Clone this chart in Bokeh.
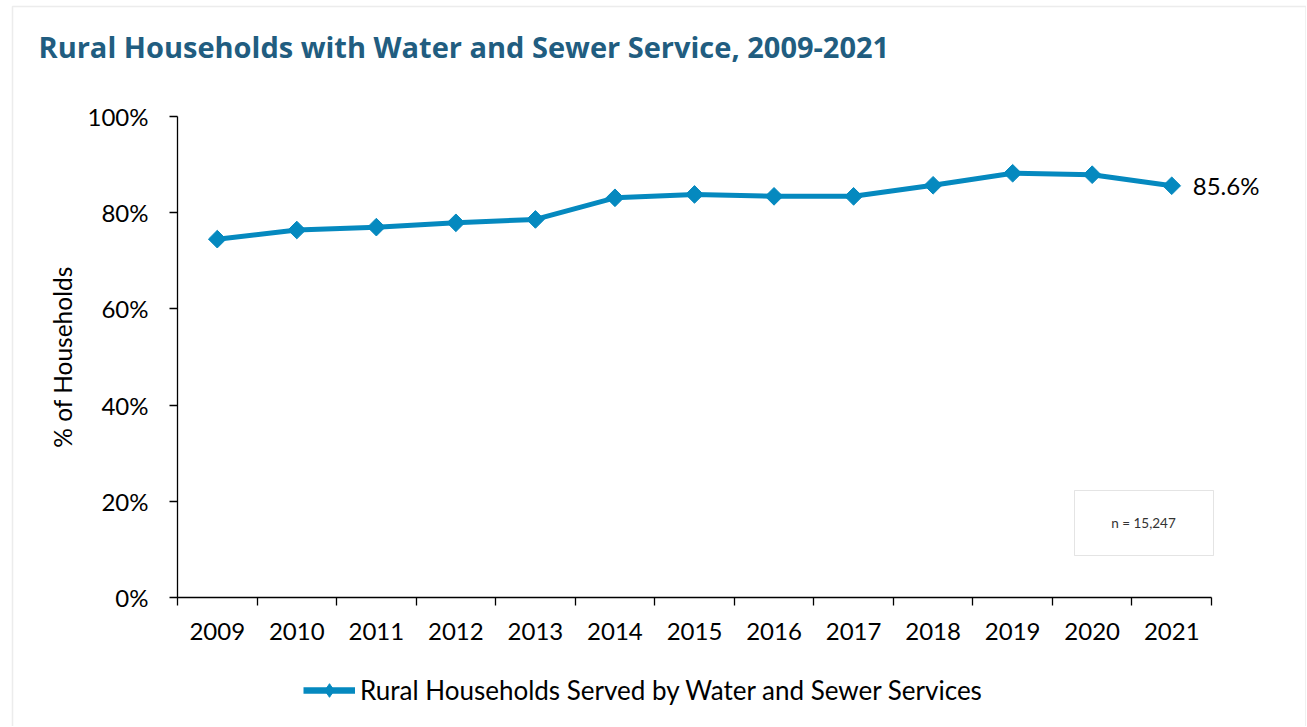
import math
from bokeh.plotting import figure
from bokeh.models import (Range1d, FixedTicker, Legend, LegendItem, Label,
                          BoxAnnotation, ColumnDataSource)
from bokeh.embed import file_html
from bokeh.resources import INLINE

# ---- data ----
years = [2009, 2010, 2011, 2012, 2013, 2014, 2015, 2016, 2017, 2018, 2019, 2020, 2021]
values = [74.5, 76.4, 77.0, 77.9, 78.6, 83.1, 83.8, 83.4, 83.4, 85.7, 88.2, 87.9, 85.6]
y_ticks = [0, 20, 40, 60, 80, 100]
y_tick_labels = ["0%", "20%", "40%", "60%", "80%", "100%"]
title_text = "Rural Households with Water and Sewer Service, 2009-2021"
y_title = "% of Households"
series_name = "Rural Households Served by Water and Sewer Services"
n_text = "n = 15,247"

LINE_COLOR = "#0589bf"
TITLE_COLOR = "#215d80"
FONT = "Lato"

# ---- layout (pixels) ----
W, H = 1306, 726
PX_L, PX_R, PX_T, PX_B = 177, 1211, 116, 597   # plot area edges on the canvas

x0, x1 = years[0] - 0.5, years[-1] + 0.5
y0, y1 = y_ticks[0], y_ticks[-1]
kx = (x1 - x0) / (PX_R - PX_L)
ky = (y1 - y0) / (PX_B - PX_T)

p = figure(width=W, height=H, output_backend="svg", toolbar_location=None,
           x_range=Range1d(x0 - PX_L * kx, x1 + (W - PX_R) * kx),
           y_range=Range1d(y0 - (H - PX_B) * ky, y1 + PX_T * ky),
           min_border_left=0, min_border_right=0,
           min_border_top=0, min_border_bottom=0,
           background_fill_color="white", border_fill_color="white")
p.outline_line_color = None
p.xgrid.visible = False
p.ygrid.visible = False

# outer light-gray frame of the chart
p.add_layout(BoxAnnotation(left=12, right=W - 0.5, bottom=-20, top=H - 6,
                           left_units="screen", right_units="screen",
                           bottom_units="screen", top_units="screen",
                           fill_alpha=0, line_color="#bfbfbf", line_width=1.5))

src = ColumnDataSource(dict(x=years, y=values))
line_r = p.line(x="x", y="y", source=src, line_width=5, color=LINE_COLOR)
pts_r = p.scatter(x="x", y="y", source=src, marker="square", angle=math.pi / 4,
                  size=12.5, color=LINE_COLOR)
# renderers used only for the legend swatch (hidden in the plot)
leg_line = p.line(x="x", y="y", source=src, line_width=6.5, color=LINE_COLOR,
                  visible=False)
leg_pt = p.scatter(x="x", y="y", source=src, marker="diamond",
                   size=14, color=LINE_COLOR, visible=False)

# x axis
p.xaxis.fixed_location = y0
p.xaxis.bounds = (x0, x1)
p.xaxis.ticker = FixedTicker(ticks=years,
                             minor_ticks=[y - 0.5 for y in years] + [x1])
p.xaxis.major_label_overrides = {y: str(y) for y in years}
p.xaxis.major_tick_out = 0
p.xaxis.major_tick_in = 0
p.xaxis.minor_tick_out = 8
p.xaxis.minor_tick_in = 0
p.xaxis.minor_tick_line_color = "black"
p.xaxis.axis_line_color = "black"
p.xaxis.axis_line_width = 1.3
p.xaxis.minor_tick_line_width = 1.3
p.xaxis.major_label_text_font = FONT
p.xaxis.major_label_text_font_size = "24px"
p.xaxis.major_label_text_color = "black"
p.xaxis.major_label_standoff = 17

# y axis
p.yaxis.fixed_location = x0
p.yaxis.bounds = (y0, y1)
p.yaxis.ticker = FixedTicker(ticks=y_ticks, minor_ticks=[])
p.yaxis.major_label_overrides = dict(zip(y_ticks, y_tick_labels))
p.yaxis.major_tick_out = 8
p.yaxis.major_tick_in = 0
p.yaxis.major_tick_line_color = "black"
p.yaxis.major_tick_line_width = 1.3
p.yaxis.axis_line_color = "black"
p.yaxis.axis_line_width = 1.3
p.yaxis.major_label_text_font = FONT
p.yaxis.major_label_text_font_size = "24px"
p.yaxis.major_label_text_color = "black"
p.yaxis.major_label_standoff = 21
p.yaxis.axis_label = y_title
p.yaxis.axis_label_text_font = FONT
p.yaxis.axis_label_text_font_style = "normal"
p.yaxis.axis_label_text_font_size = "24.5px"
p.yaxis.axis_label_text_color = "black"
p.yaxis.axis_label_standoff = 8

# title
p.add_layout(Label(x=38, y=H - 46, x_units="screen", y_units="screen",
                   text=title_text, text_font="Open Sans", text_font_style="bold",
                   text_font_size="29px", text_color=TITLE_COLOR,
                   text_baseline="alphabetic"))

# end label
p.add_layout(Label(x=years[-1], y=values[-1], x_offset=21,
                   text=f"{values[-1]}%", text_font=FONT, text_font_size="24px",
                   text_color="black", text_baseline="middle"))

# n box
p.add_layout(BoxAnnotation(left=1074, right=1213, bottom=H - 555, top=H - 490,
                           left_units="screen", right_units="screen",
                           bottom_units="screen", top_units="screen",
                           fill_color="white", fill_alpha=1,
                           line_color="#a6a6a6", line_width=1))
p.add_layout(Label(x=1143, y=H - 522, x_units="screen", y_units="screen",
                   text=n_text, text_font=FONT, text_font_size="13.5px",
                   text_color="#333333", text_align="center",
                   text_baseline="middle"))

# legend
legend = Legend(items=[LegendItem(label=series_name, renderers=[leg_line, leg_pt])],
                location=(303, H - 707), orientation="horizontal",
                glyph_width=52, glyph_height=34, label_standoff=5,
                label_text_font=FONT, label_text_font_size="26px",
                label_text_color="black", border_line_color=None,
                background_fill_alpha=0, inactive_fill_alpha=0,
                padding=0, margin=0, spacing=0)
p.add_layout(legend, "center")

open("out.html", "w").write(file_html(p, INLINE))
